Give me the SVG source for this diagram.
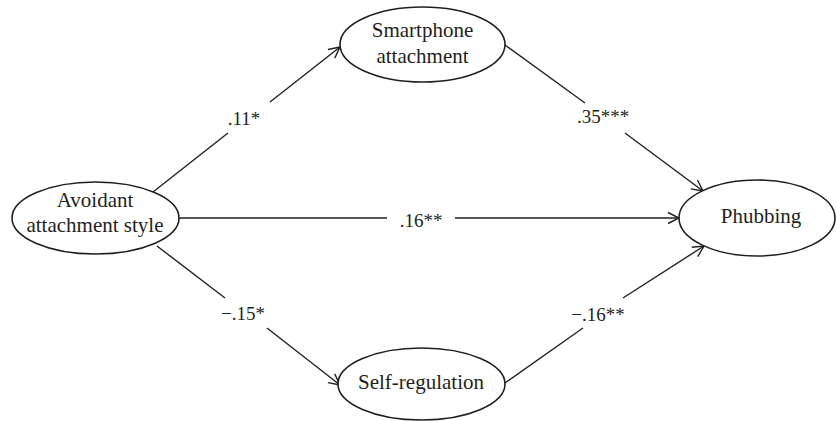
<svg xmlns="http://www.w3.org/2000/svg" width="836" height="421" viewBox="0 0 836 421">
<style>
.node ellipse{fill:#fff;stroke:#231f20;stroke-width:1.6}
text{font-family:"Liberation Serif","DejaVu Serif",serif;fill:#231f20;text-anchor:middle}
.nl{font-size:21px}
.el{font-size:19px}
.edge{stroke:#231f20;stroke-width:1.4;fill:none}
</style>
<defs>
<marker id="arr" markerUnits="userSpaceOnUse" markerWidth="16" markerHeight="16" refX="13" refY="7" orient="auto">
<path d="M2,1.5 L13,7 L2,12.5" fill="none" stroke="#231f20" stroke-width="1.4"/>
</marker>
</defs>
<rect width="836" height="421" fill="#fff"/>
<g id="connectors" font-family="Liberation Serif, serif">
<line class="edge" x1="153" y1="192" x2="228" y2="133"/>
<line class="edge" x1="270" y1="102" x2="340" y2="47" marker-end="url(#arr)"/>
<line class="edge" x1="505" y1="45" x2="585" y2="103"/>
<line class="edge" x1="625" y1="133" x2="703" y2="191" marker-end="url(#arr)"/>
<line class="edge" x1="179" y1="218" x2="387" y2="218"/>
<line class="edge" x1="455" y1="218" x2="679" y2="218" marker-end="url(#arr)"/>
<line class="edge" x1="157" y1="246" x2="225" y2="298"/>
<line class="edge" x1="267" y1="328" x2="340" y2="385" marker-end="url(#arr)"/>
<line class="edge" x1="505" y1="383" x2="583" y2="328"/>
<line class="edge" x1="623" y1="298" x2="704" y2="246" marker-end="url(#arr)"/>
<text class="el" x="244" y="125">.11*</text>
<text class="el" x="603" y="123">.35***</text>
<text class="el" x="421" y="227">.16**</text>
<text class="el" x="243" y="320">−.15*</text>
<text class="el" x="598" y="321">−.16**</text>
</g>
<g id="avoidant" class="node">
<ellipse cx="95.5" cy="218" rx="83.5" ry="36"/>
<text class="nl" x="95" y="207">Avoidant</text>
<text class="nl" x="95" y="232">attachment style</text>
</g>
<g id="smartphone" class="node">
<ellipse cx="422.5" cy="44.5" rx="82.5" ry="37.5"/>
<text class="nl" x="422.5" y="37">Smartphone</text>
<text class="nl" x="422.5" y="63">attachment</text>
</g>
<g id="phubbing" class="node">
<ellipse cx="757" cy="218" rx="78" ry="38"/>
<text class="nl" x="761" y="223">Phubbing</text>
</g>
<g id="selfregulation" class="node">
<ellipse cx="421.5" cy="384" rx="83.5" ry="36"/>
<text class="nl" x="421" y="389">Self-regulation</text>
</g>
</svg>
